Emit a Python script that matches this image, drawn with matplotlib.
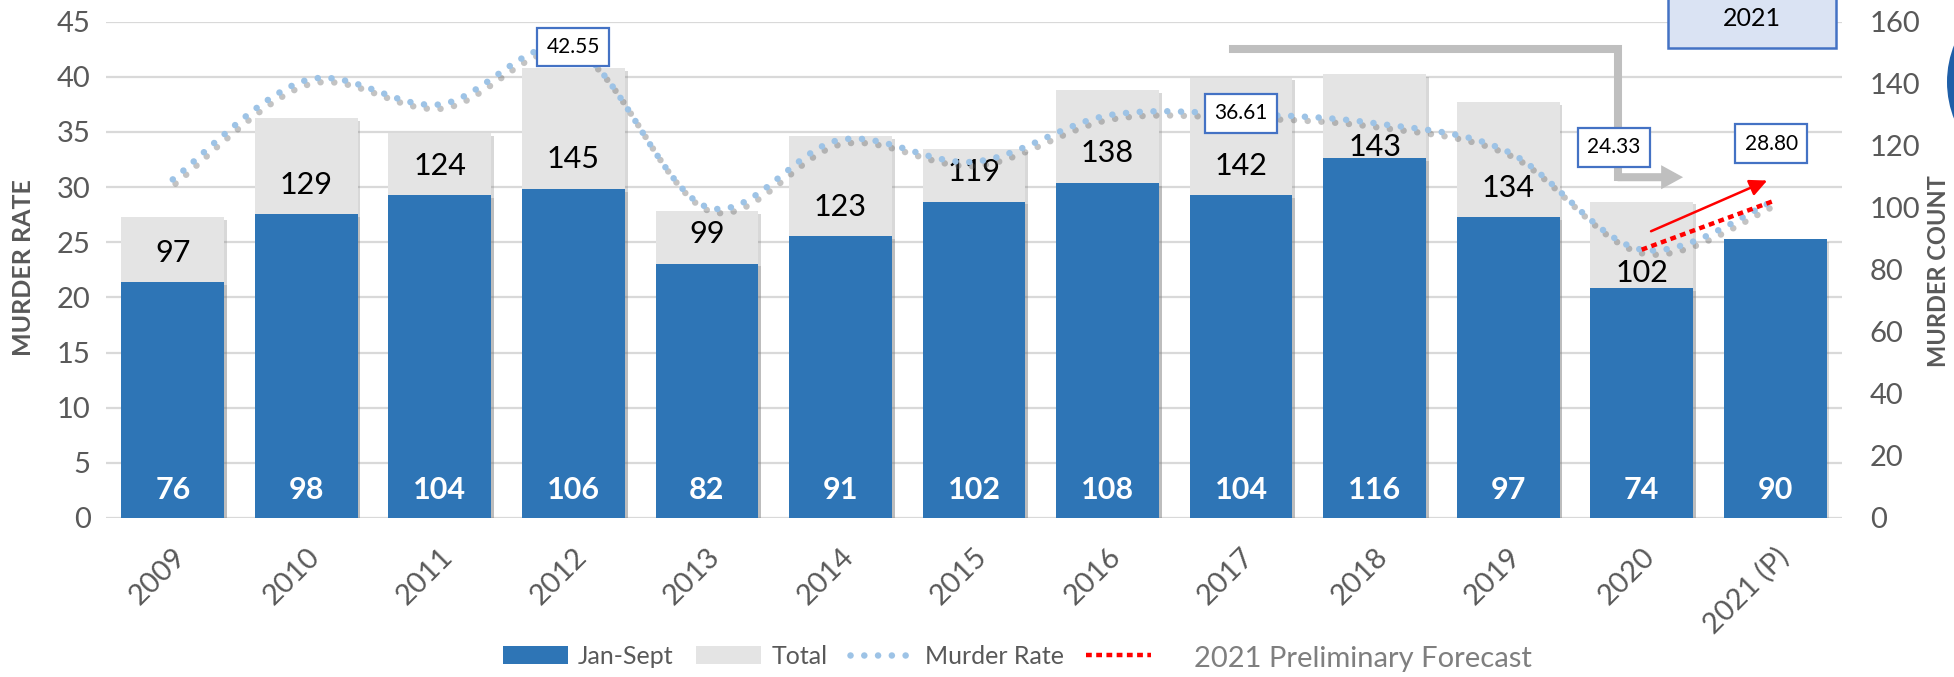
import numpy as np
import matplotlib
matplotlib.use("Agg")
import matplotlib.pyplot as plt
from matplotlib.path import Path
from matplotlib.patches import PathPatch, Rectangle, Circle, Patch
from matplotlib.lines import Line2D
import matplotlib.patheffects as pe
from matplotlib.transforms import ScaledTranslation

# ---------------- data ----------------
years = ['2009', '2010', '2011', '2012', '2013', '2014', '2015', '2016',
         '2017', '2018', '2019', '2020', '2021 (P)']
jan_sept = [76, 98, 104, 106, 82, 91, 102, 108, 104, 116, 97, 74, 90]
total = [97, 129, 124, 145, 99, 123, 119, 138, 142, 143, 134, 102]
murder_rate = [30.7, 39.7, 37.5, 42.55, 28.2, 34.3, 32.3, 36.5, 36.61, 35.8,
               33.2, 24.33, 28.80]
forecast_idx = [11, 12]
forecast_rate = [24.33, 28.80]
rate_ticks = [0, 5, 10, 15, 20, 25, 30, 35, 40, 45]
count_ticks = [0, 20, 40, 60, 80, 100, 120, 140, 160]

# ---------------- style ----------------
plt.rcParams['font.family'] = ['Lato', 'DejaVu Sans']
BLUE = '#2e75b6'
GRAY = '#e4e4e4'
DOT = '#9dc3e6'
TXT = '#595959'
BOX = '#4472c4'

W, H = 1954, 677
fig = plt.figure(figsize=(W / 100, H / 100), dpi=100)
ax = fig.add_axes([106 / W, 1 - 518 / H, (1842 - 106) / W, (518 - 21.7) / H])
ax2 = ax.twinx()

x = np.arange(len(years))
ax.set_xlim(-0.5, len(years) - 0.5)
ax.set_ylim(0, 45)
ax2.set_ylim(0, 160)
ax.set_yticks(rate_ticks)
ax2.set_yticks(count_ticks)
ax.yaxis.grid(True, color='#d9d9d9', lw=1.6)
ax.set_axisbelow(True)
for a in (ax, ax2):
    for s in a.spines.values():
        s.set_visible(False)
ax.tick_params(axis='y', length=0, pad=11, labelsize=21, labelcolor=TXT)
ax2.tick_params(axis='y', length=0, pad=20, labelsize=21, labelcolor=TXT)

ax.set_xticks(x)
ax.set_xticklabels(years, rotation=45, ha='right', va='center',
                   rotation_mode='anchor', fontsize=21, color=TXT)
ax.tick_params(axis='x', length=0, pad=25)
for lab in ax.get_xticklabels():
    lab.set_transform(lab.get_transform() + ScaledTranslation(0.09, 0, fig.dpi_scale_trans))

# ---------------- bars ----------------
bw = 0.77
shadow = [pe.SimplePatchShadow(offset=(2, -2), shadow_rgbFace='#808080', alpha=0.3), pe.Normal()]
tb = ax2.bar(x[:len(total)], total, width=bw, color=GRAY, zorder=2)
jb = ax2.bar(x, jan_sept, width=bw, color=BLUE, zorder=3)
for b in list(tb) + list(jb):
    b.set_path_effects(shadow)

label_shift = [9.5, 9.5, 9.5, 9.8, 9.6, 9.3, 9.5, 9.7, 9.5, 3.6, 9.4, 5.0]
for i, (t, j) in enumerate(zip(total, jan_sept)):
    ax2.text(x[i], j + label_shift[i], str(t), ha='center', va='center',
             fontsize=22, color='black', zorder=6)
for i, j in enumerate(jan_sept):
    ax2.text(x[i], 9.0, str(j), ha='center', va='center', fontsize=22,
             fontweight='bold', color='white', zorder=6)

# ---------------- smoothed murder-rate line ----------------
pts = np.column_stack([x, murder_rate]).astype(float)
verts = [pts[0]]
codes = [Path.MOVETO]
n = len(pts)
for i in range(n - 1):
    p0, p3 = pts[i], pts[i + 1]
    pm = pts[i - 1] if i > 0 else p0
    pn = pts[i + 2] if i + 2 < n else p3
    c1 = p0 + (p3 - pm) / 6.0
    c2 = p3 - (pn - p0) / 6.0
    verts += [c1, c2, p3]
    codes += [Path.CURVE4] * 3
curve = PathPatch(Path(verts, codes), fill=False, edgecolor=DOT, lw=4.7,
                  linestyle=(0, (0.01, 2.1)), capstyle='round',
                  transform=ax.transData, zorder=7)
curve.set_path_effects([pe.SimpleLineShadow(offset=(2, -3), shadow_color='#555555', alpha=0.35),
                        pe.Normal()])
ax2.add_patch(curve)

# forecast dotted red
ax2.plot(forecast_idx, forecast_rate, color='red', lw=3.2,
         linestyle=(0, (1.3, 1.0)), dash_capstyle='butt',
         transform=ax.transData, zorder=8)

# ---------------- value boxes ----------------
bbox = dict(boxstyle='square,pad=0.45', fc='white', ec=BOX, lw=1.6)
box_pos = {3: (3.0, murder_rate[3] + 0.15), 8: (8.0, murder_rate[8] + 0.1),
           11: (10.79, 33.6), 12: (11.97, 33.95)}
for i, (bx, by) in box_pos.items():
    ax2.text(bx, by, f'{murder_rate[i]:.2f}', transform=ax.transData,
             ha='center', va='center', fontsize=15, color='black', bbox=bbox, zorder=10)

# ---------------- gray elbow arrow ----------------
ax2.add_line(Line2D([7.94, 10.82, 10.82], [42.5, 42.5, 30.9], color='#bfbfbf', lw=5.8,
                    solid_capstyle='projecting', solid_joinstyle='miter',
                    transform=ax.transData, zorder=9))
ax2.annotate('', xy=(11.31, 30.9), xytext=(10.82, 30.9),
             xycoords=ax.transData, textcoords=ax.transData,
             arrowprops=dict(arrowstyle='simple,head_length=15.8,head_width=17.3,tail_width=5.8',
                             mutation_scale=1, fc='#bfbfbf', ec='none', lw=0,
                             shrinkA=0, shrinkB=0), zorder=9)

# red trend arrow
ax2.annotate('', xy=(11.94, 30.6), xytext=(11.07, 26.0),
             xycoords=ax.transData, textcoords=ax.transData,
             arrowprops=dict(arrowstyle='-|>,head_length=10.5,head_width=5',
                             mutation_scale=1, color='red', lw=1.8,
                             shrinkA=0, shrinkB=0), zorder=9)

# ---------------- axis titles ----------------
fig.text(24 / W, 1 - 268 / H, 'MURDER RATE', rotation=90, ha='center', va='center',
         fontsize=18, fontweight='bold', color=TXT)
fig.text(1939 / W, 1 - 271 / H, 'MURDER COUNT', rotation=90, ha='center', va='center',
         fontsize=17, fontweight='bold', color=TXT)

# ---------------- 2021 header box & logo edge ----------------
fig.add_artist(Rectangle((1668 / W, 1 - 48 / H), 168 / W, 80 / H, transform=fig.transFigure,
                         fc='#dae3f3', ec=BOX, lw=1.8, clip_on=False))
fig.text(1752 / W, 1 - 19 / H, '2021', ha='center', va='center', fontsize=18, color='black')
fig.add_artist(Circle((20.47, 5.95), 1.0, transform=fig.dpi_scale_trans,
                      fc='#1f5fa8', ec='none', clip_on=False))

# ---------------- legend ----------------
handles = [Patch(fc=BLUE), Patch(fc=GRAY),
           Line2D([], [], color=DOT, lw=4.7, linestyle=(0, (0.01, 2.1)), dash_capstyle='round'),
           Line2D([], [], color='red', lw=3.2, linestyle=(0, (1.3, 1.0)), dash_capstyle='butt')]
labels = ['Jan-Sept', 'Total', 'Murder Rate', '']
fig.legend(handles, labels, loc='center left', bbox_to_anchor=(503 / W, 1 - 656 / H),
           ncol=4, frameon=False, fontsize=18, handlelength=2.6, handleheight=0.7,
           handletextpad=0.4, columnspacing=0.9, borderpad=0, borderaxespad=0,
           labelcolor=TXT)
fig.text(1194 / W, 1 - 659 / H, '2021 Preliminary Forecast', ha='left', va='center',
         fontsize=21, color='#7f7f7f')

fig.savefig('out.png', dpi=100)
